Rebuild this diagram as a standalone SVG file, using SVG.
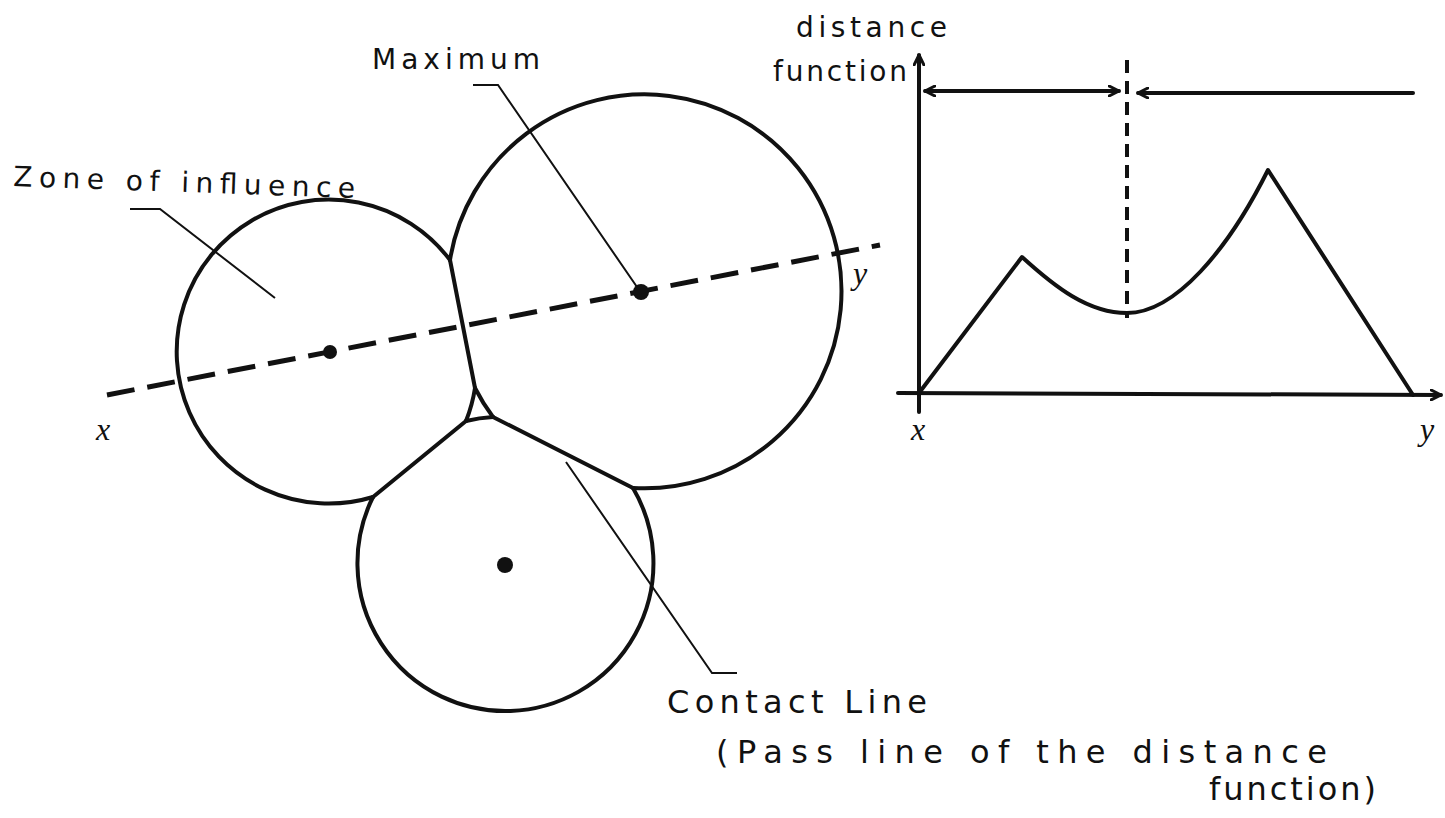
<svg xmlns="http://www.w3.org/2000/svg" width="1445" height="818" viewBox="0 0 1445 818">
<style>
.bd{fill:none;stroke:#111;stroke-width:4;stroke-linecap:round;stroke-linejoin:round}
.ld{fill:none;stroke:#111;stroke-width:2}
.ds{fill:none;stroke:#111;stroke-width:5;stroke-dasharray:28 13}
.vd{fill:none;stroke:#111;stroke-width:4;stroke-dasharray:13 8}
.ax{fill:none;stroke:#111;stroke-width:4;stroke-linecap:round}
.t{font-family:"DejaVu Sans","Liberation Sans",sans-serif;font-size:28px;fill:#111}
.tb{font-family:"DejaVu Sans","Liberation Sans",sans-serif;font-size:32px;fill:#111}
.v{font-family:"Liberation Serif","Times New Roman",serif;font-style:italic;font-size:32px;fill:#111}
.dot{fill:#111}
</style>
<defs>
<marker id="ah" viewBox="0 0 12 12" refX="11" refY="6" markerWidth="12" markerHeight="12" markerUnits="userSpaceOnUse" orient="auto-start-reverse">
<path d="M1,1 L11,6 L1,11" fill="none" stroke="#111" stroke-width="3" stroke-linecap="round" stroke-linejoin="round"/>
</marker>
</defs>
<rect width="1445" height="818" fill="#fff"/>

<g id="zone-left">
<path class="bd" d="M450,260 A152,152 0 1 0 373,497"/>
<path class="bd" d="M466,421 A152,152 0 0 0 475,388"/>
<circle class="dot" cx="330" cy="352" r="7"/>
</g>
<g id="zone-right">
<path class="bd" d="M633,488 A197,197 0 1 0 450,260"/>
<path class="bd" d="M475,388 A197,197 0 0 0 493,417"/>
<circle class="dot" cx="641" cy="292" r="8"/>
</g>
<g id="zone-bottom">
<path class="bd" d="M373,497 A148,148 0 1 0 633,488"/>
<path class="bd" d="M466,421 A148,148 0 0 1 493,417"/>
<circle class="dot" cx="505" cy="565" r="8"/>
</g>

<g id="connectors">
<path class="bd" d="M450,260 L475,388"/>
<path class="bd" d="M466,421 L373,497"/>
<path class="bd" d="M493,417 L633,488"/>
<path class="ds" d="M107,395 L880,245"/>
<polyline class="ld" points="473,85 498,85 637,287"/>
<polyline class="ld" points="130,209 160,209 275,298"/>
<polyline class="ld" points="566,462 712,673 737,673"/>
</g>

<g id="graph">
<path class="ax" d="M919,412 L919,55" marker-end="url(#ah)"/>
<path class="ax" d="M898,393 L1441,395" marker-end="url(#ah)"/>
<path class="bd" d="M919,393 L1022,257 C1055,287 1088,313 1127,313 C1175,313 1228,250 1268,170 L1413,395"/>
<path class="vd" d="M1127,60 L1127,318"/>
<path class="ax" d="M925,91 L1119,91" marker-start="url(#ah)" marker-end="url(#ah)"/>
<path class="ax" d="M1413,93 L1138,93" marker-end="url(#ah)"/>
</g>

<g id="labels">
<text class="t" x="372" y="69" textLength="168" lengthAdjust="spacing">Maximum</text>
<text class="t" x="13" y="186" textLength="342" lengthAdjust="spacing" transform="rotate(2 13 186)">Zone of influence</text>
<text class="t" x="796" y="37" textLength="151" lengthAdjust="spacing">distance</text>
<text class="t" x="773" y="81" textLength="134" lengthAdjust="spacing">function</text>
<text class="v" x="96" y="440">x</text>
<text class="v" x="853" y="284">y</text>
<text class="v" x="911" y="440">x</text>
<text class="v" x="1420" y="440">y</text>
<text class="tb" x="667" y="713" textLength="260" lengthAdjust="spacing">Contact Line</text>
<text class="tb" x="716" y="763" textLength="611" lengthAdjust="spacing">(Pass line of the distance</text>
<text class="tb" x="1209" y="800" textLength="167" lengthAdjust="spacing">function)</text>
</g>
</svg>
